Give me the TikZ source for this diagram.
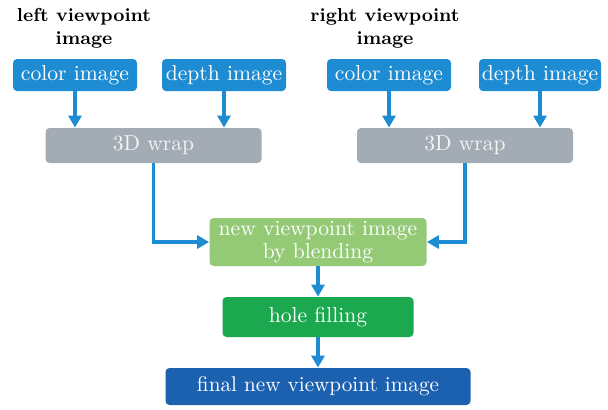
\documentclass[tikz,border=0pt]{standalone}
\usepackage{tikz}
\usetikzlibrary{arrows.meta}
\usetikzlibrary{calc}
\definecolor{boxblue}{RGB}{30,140,210}
\definecolor{wrapgray}{RGB}{163,172,180}
\definecolor{blendgreen}{RGB}{148,202,118}
\definecolor{holegreen}{RGB}{28,168,78}
\definecolor{finalblue}{RGB}{28,96,176}
\tikzset{
  imgbox/.style={fill=boxblue, rounded corners=2pt, text=white, minimum width=62pt, minimum height=16pt, inner sep=0pt, font=\fontsize{10.8}{12}\selectfont},
  wrapbox/.style={fill=wrapgray, rounded corners=2pt, text=white!92!gray, minimum width=108pt, minimum height=17.5pt, inner sep=0pt, font=\fontsize{10.8}{12}\selectfont},
  title/.style={align=center, font=\fontsize{9.4}{11.5}\selectfont\bfseries},
  flow/.style={-{Triangle[length=6pt,width=6.5pt]}, line width=1.7pt, boxblue}
}
\begin{document}
\begin{tikzpicture}[x=0.5pt,y=-0.5pt]
\useasboundingbox (0,0) rectangle (608,409);
\node[title] (lt) at (84,28) {left viewpoint\\image};
\node[title] (rt) at (385,28) {right viewpoint\\image};

\node[imgbox] (lc) at (75,75) {color image};
\node[imgbox] (ld) at (224,75) {depth image};
\node[imgbox] (rc) at (389,75) {color image};
\node[imgbox, minimum width=61pt] (rd) at (540,75) {depth image};

\node[wrapbox] (lw) at (153.5,145.5) {3D wrap};
\node[wrapbox] (rw) at (465,145.5) {3D wrap};

\node[fill=blendgreen, rounded corners=2pt, text=white, minimum width=108.5pt, minimum height=24pt, inner sep=0pt, align=center, font=\fontsize{10.8}{11.5}\selectfont] (bl) at (318,242) {new viewpoint image\\by blending};
\node[fill=holegreen, rounded corners=2pt, text=white, minimum width=95.5pt, minimum height=20pt, inner sep=0pt, font=\fontsize{10.8}{12}\selectfont] (hf) at (318,317) {hole filling};
\node[fill=finalblue, rounded corners=2pt, text=white, minimum width=152.5pt, minimum height=18.5pt, inner sep=0pt, font=\fontsize{10.6}{12}\selectfont] (fi) at (318,386.5) {final new viewpoint image};

\draw[flow] (lc.south) -- (lc.south |- lw.north);
\draw[flow] (ld.south) -- (ld.south |- lw.north);
\draw[flow] (rc.south) -- (rc.south |- rw.north);
\draw[flow] (rd.south) -- (rd.south |- rw.north);

\draw[flow] (lw.south) |- (bl.west);
\draw[flow] (rw.south) |- (bl.east);
\draw[flow] (bl.south) -- (hf.north);
\draw[flow] (hf.south) -- (fi.north);
\end{tikzpicture}
\end{document}
